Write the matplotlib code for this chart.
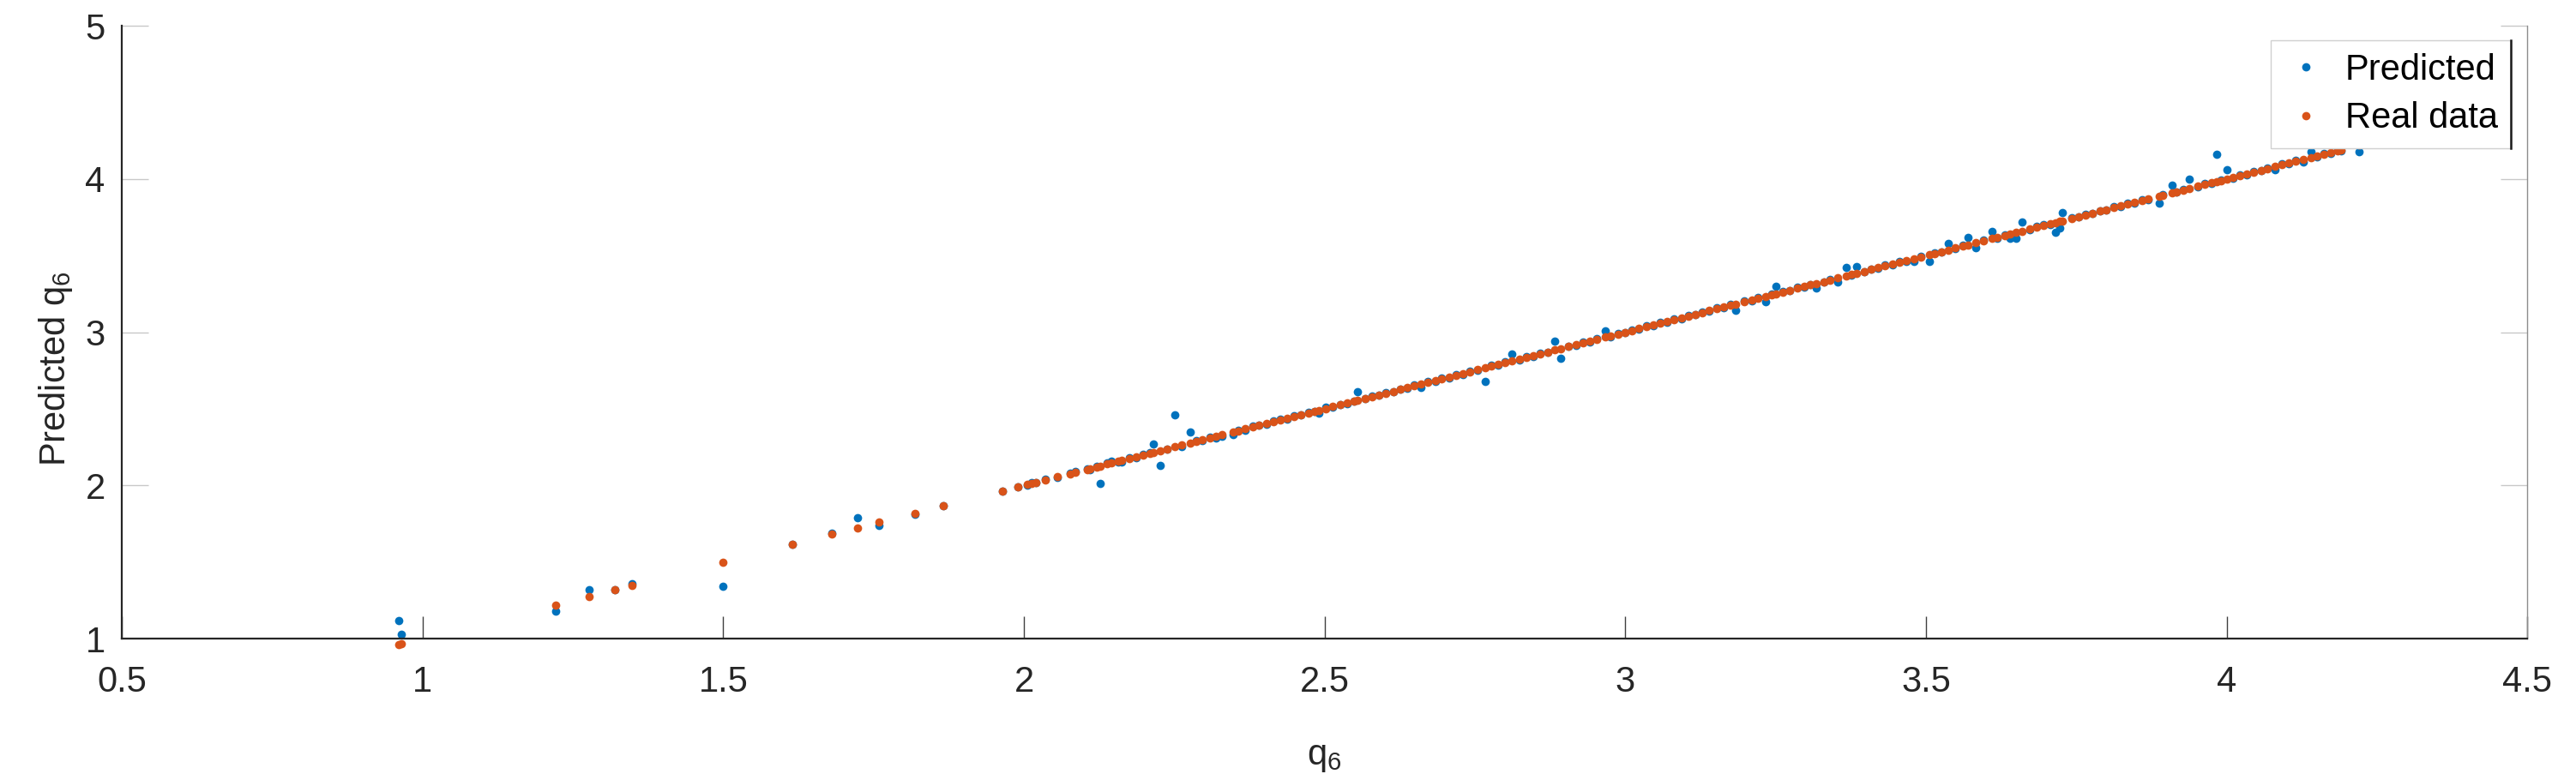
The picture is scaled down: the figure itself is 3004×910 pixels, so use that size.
import matplotlib
matplotlib.use("Agg")
import matplotlib.pyplot as plt
from matplotlib.lines import Line2D

# q6 values (x) and the two series
q6 = [
    0.960, 0.965, 1.221, 1.277, 1.320, 1.349, 1.500, 1.615, 1.680, 1.724,
    1.759, 1.819, 1.866, 1.964, 1.990, 2.006, 2.013, 2.020, 2.035, 2.056,
    2.077, 2.086, 2.105,
    2.110, 2.121, 2.127, 2.139, 2.146, 2.157, 2.163, 2.175, 2.187, 2.198,
    2.209, 2.215, 2.227, 2.238, 2.251, 2.262, 2.276, 2.286, 2.297, 2.309,
    2.320, 2.330, 2.348, 2.356, 2.368, 2.380, 2.391, 2.403, 2.415, 2.426,
    2.438, 2.449, 2.461, 2.473, 2.484, 2.490, 2.502, 2.514, 2.526, 2.537,
    2.549, 2.555, 2.567, 2.579, 2.591, 2.602, 2.614, 2.626, 2.637, 2.649,
    2.660, 2.672, 2.684, 2.695, 2.707, 2.719, 2.730, 2.742, 2.754, 2.767,
    2.777, 2.789, 2.800, 2.812, 2.824, 2.836, 2.847, 2.859, 2.871, 2.883,
    2.892, 2.906, 2.918, 2.929, 2.941, 2.953, 2.967, 2.976, 2.988, 3.000,
    3.011, 3.023, 3.035, 3.046, 3.058, 3.070, 3.081, 3.093, 3.105, 3.117,
    3.128, 3.140, 3.152, 3.163, 3.175, 3.183, 3.198, 3.210, 3.221, 3.233,
    3.244, 3.250, 3.262, 3.274, 3.286, 3.297, 3.308, 3.318, 3.330, 3.341,
    3.353, 3.368, 3.376, 3.385, 3.397, 3.409, 3.420, 3.432, 3.444, 3.456,
    3.467, 3.480, 3.491, 3.506, 3.514, 3.526, 3.537, 3.549, 3.561, 3.570,
    3.583, 3.596, 3.610, 3.619, 3.631, 3.640, 3.650, 3.660, 3.672, 3.684,
    3.695, 3.707, 3.716, 3.722, 3.727, 3.742, 3.754, 3.765, 3.777, 3.789,
    3.800, 3.812, 3.824, 3.835, 3.847, 3.859, 3.870, 3.888, 3.894, 3.910,
    3.917, 3.928, 3.938, 3.952, 3.963, 3.975, 3.984, 3.990, 4.000, 4.010,
    4.022, 4.033, 4.045, 4.057, 4.068, 4.080, 4.092, 4.103, 4.115, 4.127,
    4.140, 4.150, 4.162, 4.173, 4.185, 4.190, 4.220,
]

predicted = [
    1.120, 1.030, 1.180, 1.320, 1.320, 1.360, 1.340, 1.615, 1.690, 1.790,
    1.740, 1.810, 1.870, 1.960, 1.990, 2.000, 2.020, 2.020, 2.040, 2.050,
    2.080, 2.090, 2.110,
    2.105, 2.125, 2.010, 2.145, 2.160, 2.150, 2.150, 2.180, 2.180, 2.205,
    2.215, 2.270, 2.130, 2.235, 2.460, 2.255, 2.350, 2.290, 2.290, 2.315,
    2.310, 2.320, 2.330, 2.360, 2.362, 2.385, 2.395, 2.398, 2.420, 2.430,
    2.435, 2.455, 2.458, 2.478, 2.480, 2.470, 2.508, 2.510, 2.530, 2.535,
    2.552, 2.610, 2.565, 2.585, 2.588, 2.606, 2.610, 2.630, 2.634, 2.654,
    2.640, 2.676, 2.680, 2.700, 2.703, 2.724, 2.726, 2.746, 2.750, 2.680,
    2.782, 2.785, 2.805, 2.860, 2.820, 2.842, 2.843, 2.864, 2.868, 2.940,
    2.830, 2.910, 2.914, 2.934, 2.937, 2.958, 3.010, 2.972, 2.993, 2.996,
    3.016, 3.019, 3.040, 3.042, 3.063, 3.066, 3.086, 3.089, 3.110, 3.113,
    3.134, 3.136, 3.157, 3.159, 3.180, 3.140, 3.203, 3.206, 3.226, 3.200,
    3.249, 3.300, 3.268, 3.270, 3.292, 3.293, 3.313, 3.290, 3.325, 3.346,
    3.330, 3.420, 3.372, 3.430, 3.393, 3.414, 3.416, 3.437, 3.440, 3.461,
    3.463, 3.460, 3.496, 3.460, 3.519, 3.522, 3.580, 3.545, 3.566, 3.620,
    3.550, 3.601, 3.660, 3.615, 3.637, 3.610, 3.610, 3.720, 3.668, 3.690,
    3.700, 3.703, 3.650, 3.680, 3.780, 3.747, 3.750, 3.770, 3.773, 3.794,
    3.796, 3.817, 3.820, 3.840, 3.843, 3.864, 3.866, 3.840, 3.899, 3.960,
    3.913, 3.933, 4.000, 3.948, 3.968, 3.971, 4.160, 3.995, 4.060, 4.005,
    4.027, 4.029, 4.050, 4.053, 4.073, 4.060, 4.097, 4.099, 4.120, 4.110,
    4.180, 4.146, 4.167, 4.169, 4.190, 4.186, 4.180,
]

real_data = list(q6)

x_ticks = [0.5, 1, 1.5, 2, 2.5, 3, 3.5, 4, 4.5]
x_tick_labels = ["0.5", "1", "1.5", "2", "2.5", "3", "3.5", "4", "4.5"]
y_ticks = [1, 2, 3, 4, 5]

plt.rcParams["font.family"] = ["Liberation Sans", "DejaVu Sans"]
plt.rcParams["mathtext.default"] = "regular"

dark = "#262626"

fig = plt.figure(figsize=(30.04, 9.10), dpi=100)
ax = fig.add_axes([0.0473, 0.1813, 0.9338, 0.7857])

ax.plot(q6, predicted, "o", color="#0072BD", ms=7, mew=0, label="Predicted", clip_on=False)
ax.plot(q6, real_data, "o", color="#D95319", ms=7, mew=0, label="Real data", clip_on=False)

ax.set_xlim(0.5, 4.5)
ax.set_ylim(1, 5)
ax.set_xticks(x_ticks)
ax.set_xticklabels(x_tick_labels)
ax.set_yticks(y_ticks)

ax.spines["top"].set_visible(False)
ax.spines["left"].set_color(dark)
ax.spines["bottom"].set_color(dark)
ax.spines["left"].set_linewidth(1.6)
ax.spines["bottom"].set_linewidth(1.6)
ax.spines["right"].set_color("#8c8c8c")
ax.spines["right"].set_linewidth(1.0)

ax.tick_params(axis="x", direction="in", length=19, width=1.0, color="#404040",
               labelsize=30, labelcolor=dark, pad=22)
ax.tick_params(axis="y", direction="in", length=22, width=1.0, color="#c8c8c8",
               labelsize=30, labelcolor=dark, pad=14, right=True)

ax.set_xlabel("q$_6$", fontsize=30, color=dark, labelpad=34)
ax.set_ylabel("Predicted q$_6$", fontsize=30, color=dark)
ax.yaxis.set_label_coords(-0.0196, 0.44)

leg = ax.legend(loc="upper right", bbox_to_anchor=(0.993, 0.976), borderaxespad=0,
                fontsize=30, frameon=True, fancybox=False, framealpha=1,
                edgecolor="#d0d0d0", borderpad=0.35, handlelength=1.3,
                handletextpad=0.45, labelspacing=0.4)
leg.get_frame().set_linewidth(1.0)

# dark right edge on the legend box, as in the original export
fig.canvas.draw()
bb = leg.get_frame().get_window_extent().transformed(fig.transFigure.inverted())
fig.add_artist(Line2D([bb.x1, bb.x1], [bb.y0, bb.y1], transform=fig.transFigure,
                      color="#1a1a1a", lw=1.8))

fig.savefig("out.png", dpi=100, facecolor="white")
